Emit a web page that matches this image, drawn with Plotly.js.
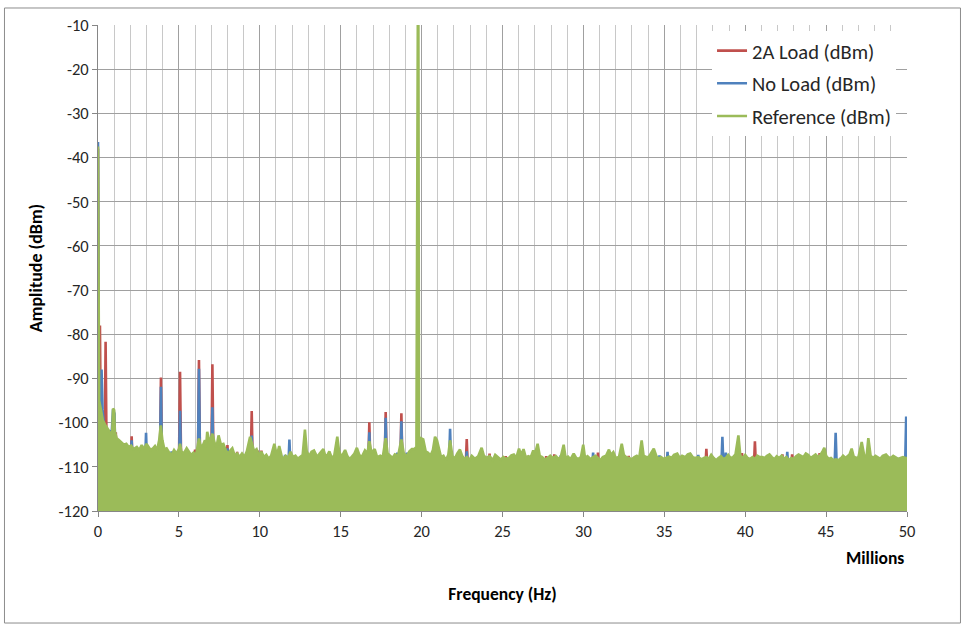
<!DOCTYPE html>
<html>
<head>
<meta charset="utf-8">
<script src="https://cdn.plot.ly/plotly-3.0.1.min.js"></script>
<style>
  html, body { margin: 0; padding: 0; background: #ffffff; }
  #chart { width: 968px; height: 633px; }
</style>
</head>
<body>
<div id="chart"></div>
<script>
// ---------------- DATA ----------------
// Frequency axis in Millions of Hz, amplitude in dBm.
const seriesNames = ['2A Load (dBm)', 'No Load (dBm)', 'Reference (dBm)'];
const seriesColors = ['#C0504D', '#4F81BD', '#9BBB59'];

const xTickVals = [0, 5, 10, 15, 20, 25, 30, 35, 40, 45, 50];
const xTickText = ['0', '5', '10', '15', '20', '25', '30', '35', '40', '45', '50'];
const yTickVals = [-120, -110, -100, -90, -80, -70, -60, -50, -40, -30, -20, -10];
const yTickText = ['-120', '-110', '-100', '-90', '-80', '-70', '-60', '-50', '-40', '-30', '-20', '-10'];

// Reference (dBm): upper envelope of the dense spectrum [MHz, dBm]
const referencePoints = [
  [0,-37.5],[0.025,-88],[0.07,-95],[0.2,-97.5],[0.3,-99.5],[0.45,-100.5],[0.6,-101.5],[0.75,-102.5],
  [0.87,-103],[0.93,-96.8],[1.0,-97.2],[1.04,-102],[1.15,-103.5],[1.3,-104],[1.45,-104.5],[1.6,-105],
  [1.75,-104.8],[1.9,-105.5],[2.05,-105.2],[2.2,-106],[2.4,-105.5],[2.55,-106.2],[2.7,-105.1],[2.85,-106],
  [3.0,-104.8],[3.1,-105.5],[3.25,-106.2],[3.4,-105.8],[3.52,-105.3],[3.65,-106.3],[3.78,-104],[3.88,-100.6],
  [3.98,-104],[4.1,-106],[4.24,-105.8],[4.4,-106.8],[4.55,-107.3],[4.7,-106.2],[4.85,-107],[5.0,-106],
  [5.07,-104.8],[5.15,-106.5],[5.3,-107],[5.48,-105.8],[5.6,-106.5],[5.75,-107.3],[5.9,-106.8],[6.05,-107.5],
  [6.15,-105.5],[6.24,-103.6],[6.35,-105.5],[6.5,-105],[6.61,-104],[6.68,-105.5],[6.75,-102.1],[6.9,-104.5],
  [7.07,-102.5],[7.2,-104.5],[7.33,-105.5],[7.45,-102.9],[7.6,-105],[7.75,-104.8],[7.9,-106.3],[8.05,-107],
  [8.2,-106.2],[8.3,-105.8],[8.45,-107.5],[8.6,-107],[8.75,-107.8],[8.9,-107],[9.05,-107.8],[9.2,-106.5],
  [9.4,-103.2],[9.5,-104.5],[9.65,-106.5],[9.8,-106],[9.95,-107.5],[10.1,-106.6],[10.25,-107.8],[10.4,-107.3],
  [10.55,-108.2],[10.7,-107.5],[10.9,-104.8],[11.05,-107.5],[11.2,-105.3],[11.4,-108.3],[11.6,-107.5],[11.75,-108],
  [11.9,-106.6],[12.05,-107.8],[12.2,-107.5],[12.35,-108.2],[12.5,-107.8],[12.65,-107.3],[12.79,-101.6],[12.9,-106.5],
  [13.05,-107.6],[13.2,-106.6],[13.35,-106.3],[13.55,-107.8],[13.7,-107],[13.93,-106],[14.05,-107.6],[14.2,-107.2],
  [14.3,-106.5],[14.45,-108],[14.6,-107.5],[14.79,-103.2],[14.9,-106.5],[15.05,-107.8],[15.27,-106.2],[15.4,-107.5],
  [15.55,-108.3],[15.7,-107.5],[15.85,-107],[16.0,-105.7],[16.15,-107.3],[16.3,-107.8],[16.5,-106.3],[16.65,-107],
  [16.77,-104.2],[16.9,-106.8],[17.1,-106],[17.25,-107.8],[17.45,-107.5],[17.6,-107.8],[17.78,-103.5],[17.9,-107],
  [18.05,-107.5],[18.2,-108],[18.35,-107.2],[18.55,-107.5],[18.75,-103.8],[18.9,-107],[19.1,-107.5],[19.25,-106.5],
  [19.4,-106],[19.55,-106],[19.68,-105.5],[19.74,-17],[19.77,-5],[19.8,-5],[19.84,-104],[19.95,-103.5],
  [20.1,-103.8],[20.25,-106.5],[20.4,-106.8],[20.55,-107.5],[20.7,-106.2],[20.83,-103.2],[20.95,-104],[21.05,-105.5],
  [21.2,-107.8],[21.35,-107.5],[21.5,-108.5],[21.65,-107.3],[21.76,-104],[21.9,-107.5],[22.05,-108.2],[22.2,-107],
  [22.37,-106.1],[22.5,-107.5],[22.65,-108.3],[22.8,-107.8],[22.95,-108.5],[23.1,-107.5],[23.3,-108.2],[23.5,-107.6],
  [23.71,-105.7],[23.85,-107.5],[24.0,-108],[24.2,-107.6],[24.4,-108.5],[24.55,-107.3],[24.7,-107.8],[24.9,-108.4],
  [25.05,-107.8],[25.2,-108.2],[25.4,-108],[25.55,-107.4],[25.7,-107.2],[25.85,-108],[26.02,-105.9],[26.15,-107.3],
  [26.3,-106],[26.45,-108],[26.6,-107.6],[26.75,-107.8],[26.9,-106.3],[27.0,-107.3],[27.17,-104.8],[27.3,-107.5],
  [27.45,-107.8],[27.6,-108.4],[27.8,-108],[27.95,-107.5],[28.1,-108],[28.3,-107.6],[28.45,-108.2],[28.6,-107.8],
  [28.78,-105],[28.9,-108],[29.05,-107.7],[29.2,-108.3],[29.4,-107],[29.55,-108],[29.7,-108.2],[29.85,-107.8],
  [29.99,-105],[30.1,-108],[30.25,-107.6],[30.45,-108.3],[30.6,-107.8],[30.75,-107.5],[30.9,-108],[31.05,-108.5],
  [31.2,-107.8],[31.4,-107.5],[31.58,-106.1],[31.7,-107.3],[31.85,-106.7],[32.0,-108],[32.2,-107.8],[32.37,-104.8],
  [32.5,-107.3],[32.65,-107.8],[32.8,-108],[33.0,-108.3],[33.15,-107.8],[33.3,-107.5],[33.45,-108],[33.6,-104],
  [33.72,-107.5],[33.9,-107.8],[34.05,-107.7],[34.2,-106.7],[34.35,-105.9],[34.5,-107.5],[34.65,-108.2],[34.8,-107.8],
  [34.95,-108.2],[35.1,-108],[35.3,-107.7],[35.45,-108],[35.6,-107.3],[35.8,-107],[35.95,-108],[36.1,-107.5],
  [36.3,-107.8],[36.45,-107.2],[36.6,-107],[36.75,-107.8],[36.9,-108],[37.1,-107.8],[37.3,-108.3],[37.45,-108],
  [37.6,-107.8],[37.75,-108.2],[37.9,-107.3],[38.05,-108],[38.2,-108.5],[38.35,-108],[38.5,-107.6],[38.65,-108.2],
  [38.8,-108],[38.95,-107.3],[39.1,-108],[39.25,-107.8],[39.4,-107.2],[39.58,-102.9],[39.7,-107.5],[39.85,-108],
  [40.0,-107.3],[40.15,-108],[40.3,-108.2],[40.45,-107.8],[40.6,-108.3],[40.75,-107.5],[40.9,-107.8],[41.05,-107.8],
  [41.2,-108],[41.35,-107.5],[41.5,-107.2],[41.65,-107.8],[41.8,-108.3],[41.95,-107.6],[42.1,-108],[42.25,-107.5],
  [42.4,-108.2],[42.55,-107.8],[42.7,-108.5],[42.85,-108],[43.0,-108.2],[43.15,-107.6],[43.3,-107.2],[43.45,-107.5],
  [43.6,-107.8],[43.75,-107],[43.9,-107.3],[44.05,-108],[44.2,-107.5],[44.35,-107.2],[44.5,-107.8],[44.65,-107.3],
  [44.78,-106.5],[44.89,-105.7],[45.0,-107.5],[45.15,-108.2],[45.3,-108],[45.45,-108.5],[45.6,-108.3],[45.75,-108.5],
  [45.9,-108.2],[46.05,-107.5],[46.2,-108],[46.35,-107.6],[46.45,-107.2],[46.58,-105.9],[46.7,-107.6],[46.85,-108],
  [47.0,-107.8],[47.2,-104.4],[47.35,-107.3],[47.5,-107.8],[47.61,-103.5],[47.75,-107.5],[47.9,-108],[48.05,-107.5],
  [48.2,-107.8],[48.35,-108.2],[48.5,-107.5],[48.7,-107.2],[48.85,-107.8],[49.0,-108],[49.15,-107.5],[49.3,-107.8],
  [49.45,-108.2],[49.6,-108],[49.75,-107.8],[49.9,-108],[50,-108]
];

// 2A Load (dBm): low-frequency roll-off, then the spikes that rise above the reference
const loadDecay = [[0,-38],[0.04,-100]];
const loadSpikes = [
  [0.12,-78],[0.47,-81.7],[1.1,-102.2],[1.67,-104.6],[2.08,-103.1],[2.29,-106.1],[3.89,-89.8],[5.07,-88.5],
  [6.0,-106.1],[6.24,-85.8],[7.07,-86.8],[8.0,-105.1],[8.6,-106.6],[9.5,-97.4],[9.87,-106.3],[10.1,-106.3],
  [13.6,-108.3],[15.57,-107.9],[16.77,-99.9],[17.78,-97.6],[18.75,-97.9],[22.79,-103.7],[24.2,-107],[25.2,-107.6],
  [26.53,-107.5],[27.7,-107.6],[28.2,-107.2],[30.9,-106.8],[31.2,-107.8],[32.8,-107.5],[37.6,-105.9],[39.8,-106.9],
  [40.6,-104.2],[42.3,-107.2],[42.9,-107.2],[44.1,-107.9],[44.6,-106.9],[46.9,-108.3],[47.8,-107.9]
];

// No Load (dBm)
const noLoadDecay = [
  [0,-36.5],[0.04,-92],[0.1,-96],[0.16,-97],[0.22,-88],[0.28,-97],[0.35,-100],[0.45,-101],
  [0.6,-103],[0.74,-101.7],[0.82,-104],[0.93,-97],[1.02,-98],[1.08,-110.5]
];
const noLoadSpikes = [
  [2.08,-104],[2.97,-102.3],[3.89,-91.9],[4.55,-106.5],[5.07,-97.3],[6.24,-87.8],[7.07,-96.5],[8.0,-105.8],
  [9.5,-102.9],[10.9,-106.5],[11.56,-107.3],[11.83,-103.8],[12.45,-108.5],[16.77,-102.2],[17.5,-107.4],[17.78,-98.9],
  [18.5,-106.8],[18.75,-99.7],[19.1,-106.8],[21.76,-101.4],[22.79,-106.5],[25.1,-107.8],[27.7,-108.1],[28.6,-107.4],
  [30.6,-106.8],[32.8,-107.9],[34.7,-107.4],[35.2,-106.6],[36.6,-107],[37.1,-107.3],[37.9,-107.8],[38.59,-103.2],
  [38.8,-106.8],[39.05,-107.9],[42.6,-106.6],[45.59,-102.3],[45.9,-107.9],[49.45,-108],[49.75,-107.8],[49.95,-98.6]
];

// ---------------- DRAWING ----------------
const X_RANGE = [0, 50];
const Y_RANGE = [-120, -10];
const HIDDEN_FLOOR = -110.5;   // below the reference envelope, so hidden under its fill
const SPIKE_HALF = 0.07;       // half width of a single spectral line, in MHz

function spikePath(decay, spikes) {
  const x = [], y = [];
  decay.forEach(p => { x.push(p[0]); y.push(p[1]); });
  spikes.forEach(p => {
    x.push(p[0] - SPIKE_HALF); y.push(HIDDEN_FLOOR);
    x.push(p[0]); y.push(p[1]);
    x.push(p[0] + SPIKE_HALF); y.push(HIDDEN_FLOOR);
  });
  return { x, y };
}

const red = spikePath(loadDecay, loadSpikes);
const blue = spikePath(noLoadDecay, noLoadSpikes);
const gx = referencePoints.map(p => p[0]);
const gy = referencePoints.map(p => p[1]);
// closed area under the reference envelope down to the bottom of the y axis
const fillX = [gx[0]].concat(gx, [gx[gx.length - 1]]);
const fillY = [Y_RANGE[0]].concat(gy, [Y_RANGE[0]]);

const FONT = 'Carlito, Calibri, Lato, "Liberation Sans", sans-serif';
const LW = 2.6;

const traces = [
  { type: 'scatter', mode: 'lines', x: red.x, y: red.y, name: seriesNames[0], legendgroup: 'a',
    line: { color: seriesColors[0], width: LW }, hoverinfo: 'skip' },
  { type: 'scatter', mode: 'lines', x: blue.x, y: blue.y, name: seriesNames[1], legendgroup: 'b',
    line: { color: seriesColors[1], width: LW }, hoverinfo: 'skip' },
  { type: 'scatter', mode: 'lines', x: fillX, y: fillY, fill: 'toself', fillcolor: seriesColors[2],
    line: { color: seriesColors[2], width: 0 }, showlegend: false, legendgroup: 'c', hoverinfo: 'skip' },
  { type: 'scatter', mode: 'lines', x: gx, y: gy, name: seriesNames[2], legendgroup: 'c',
    line: { color: seriesColors[2], width: LW }, hoverinfo: 'skip' }
];

const layout = {
  width: 968, height: 633,
  margin: { l: 98, r: 61, t: 25, b: 122 },
  paper_bgcolor: '#ffffff', plot_bgcolor: '#ffffff',
  font: { family: FONT, size: 16.5, color: '#262626' },
  showlegend: true,
  legend: {
    x: 0.759, y: 0.988, xanchor: 'left', yanchor: 'top',
    bgcolor: '#ffffff', borderwidth: 0,
    font: { family: FONT, size: 20.5, color: '#262626' },
    traceorder: 'grouped', tracegroupgap: 3
  },
  xaxis: {
    range: X_RANGE, tickmode: 'array', tickvals: xTickVals, ticktext: xTickText,
    showgrid: true, gridcolor: '#a0a0a0', gridwidth: 1,
    minor: { dtick: 1, tick0: 0, showgrid: true, gridcolor: '#c8c8c8', gridwidth: 1, ticks: '' },
    showline: true, linecolor: '#868686', linewidth: 1,
    ticks: 'outside', ticklen: 5, tickcolor: '#868686',
    zeroline: false, tickfont: { family: FONT, size: 16.5, color: '#262626' },
    title: { text: 'Frequency (Hz)', standoff: 47, font: { family: FONT, size: 17.5, color: '#000000', weight: 700 } }
  },
  yaxis: {
    range: Y_RANGE, tickmode: 'array', tickvals: yTickVals, ticktext: yTickText,
    showgrid: true, gridcolor: '#a0a0a0', gridwidth: 1,
    showline: true, linecolor: '#868686', linewidth: 1,
    ticks: 'outside', ticklen: 5, tickcolor: '#868686',
    zeroline: false, tickfont: { family: FONT, size: 16.5, color: '#262626' },
    title: { text: 'Amplitude (dBm)', standoff: 11, font: { family: FONT, size: 18, color: '#000000', weight: 700 } }
  },
  annotations: [
    { text: 'Millions', xref: 'paper', yref: 'paper', x: 0.9604, y: -0.0967,
      xanchor: 'center', yanchor: 'middle', showarrow: false,
      font: { family: FONT, size: 17.5, color: '#000000', weight: 700 } }
  ],
  shapes: [
    { type: 'rect', xref: 'paper', yref: 'paper', x0: -0.1156, x1: 1.0661, y0: -0.2305, y1: 1.035,
      line: { color: '#8c8c8c', width: 1 }, fillcolor: 'rgba(0,0,0,0)', layer: 'below' }
  ]
};

Plotly.newPlot('chart', traces, layout, { displayModeBar: false, staticPlot: true });
</script>
</body>
</html>
